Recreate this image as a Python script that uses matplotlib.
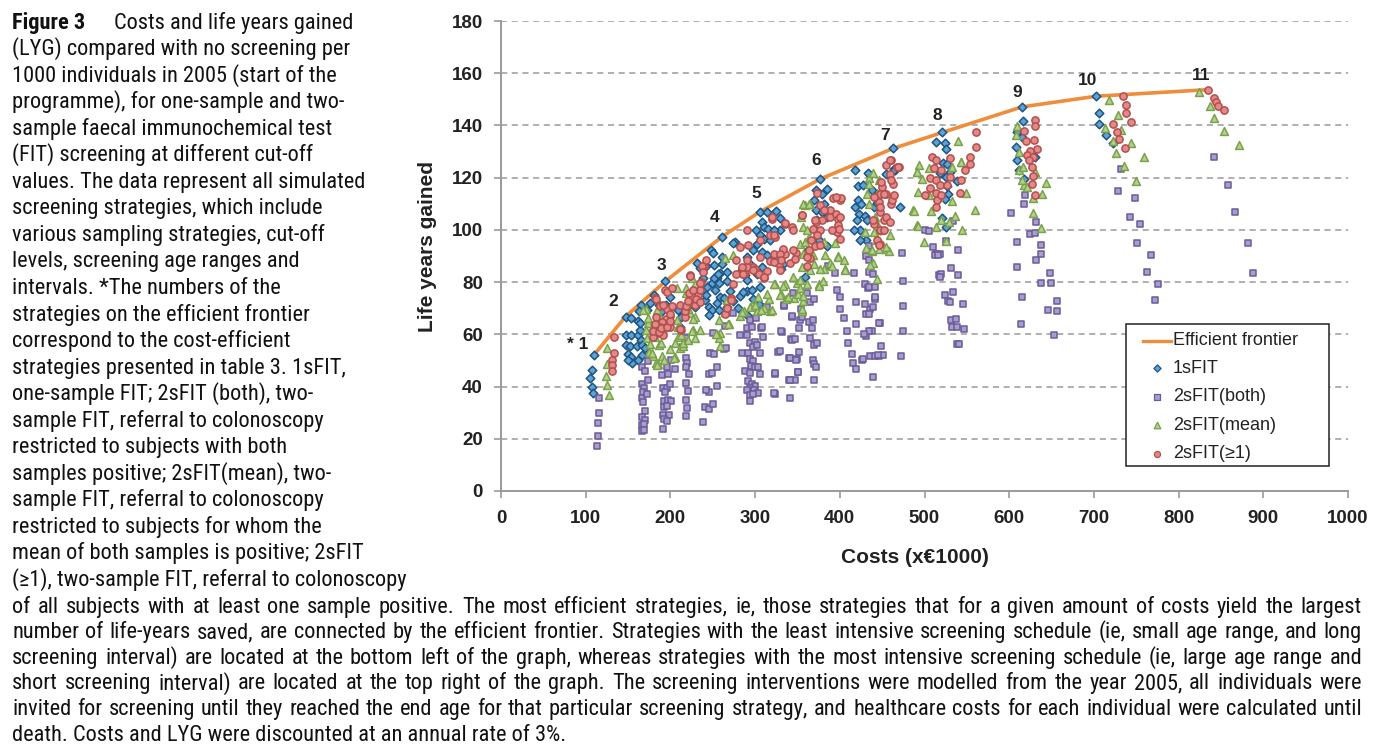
import os
import numpy as np
import matplotlib
matplotlib.use("Agg")
import matplotlib.pyplot as plt
from matplotlib import font_manager as fm
from matplotlib.lines import Line2D
from matplotlib.patches import Rectangle

# ---------------- data ----------------
frontier_x = [110, 147, 194, 261, 306, 377, 463, 521, 615, 703, 834.5]
frontier_y = [52.2, 66.8, 80.3, 97.4, 107, 119.5, 131.2, 137.3, 147.1, 151.2, 153.7]
frontier_labels = ["* 1", "2", "3", "4", "5", "6", "7", "8", "9", "10", "11"]
frontier_label_x = [91, 133, 190, 252, 302, 372, 454, 515, 609, 693, 827]
frontier_label_y = [56, 72.5, 86.3, 104.6, 114.1, 126.5, 136.3, 143.7, 152.7, 157.1, 159]

fit1_pts = [
    (110, 52.2), (147, 66.8), (194, 80.3), (261, 97.4), (306, 107), (377, 119.5), (463, 131.2),
    (521, 137.3), (615, 147.1), (703, 151.2),
    (108, 46.4), (105, 43.1), (108, 40), (109, 37.7),
    (154, 66.2), (147, 59.8), (154, 59.7), (162, 59.7), (164, 61.7), (148, 56), (152, 55.5), (160, 55.4),
    (165, 57.8), (167, 55.9), (150, 52.5), (153, 51.5), (162, 50.2), (166, 52.1), (155, 49.2), (150, 50.1),
    (165, 71.3), (163, 69), (162, 65.2), (170, 54.7), (164, 64.5),
    (172, 69.3), (176, 71.9), (181, 75.1), (200, 74.2), (186, 71.2), (195, 71.2), (200, 70.6), (190, 69),
    (209, 69.3), (213, 66.8), (211, 63),
    (231, 87.2), (235, 85.3), (248, 92.3), (250, 91), (251, 86.6), (276, 95.5), (239, 81.4), (243, 78.3),
    (249, 79.5), (255, 81.4), (259, 83.4), (261, 89.8), (241, 73.1), (245, 70.6), (249, 69.3), (255, 71.9),
    (258, 74.4), (253, 77), (267, 70.6), (257, 69.3), (229, 70.6), (231, 73.8), (235, 76.3), (242, 74.9),
    (242, 86.2), (252, 81.7), (256, 83), (261, 86.8), (257, 79.8), (263, 74.1), (246, 67.4), (274, 95.1),
    (267, 83.7), (267, 80.5), (270, 76.6), (274, 72.8), (280, 70.2), (282, 74.7), (290, 76.6), (292, 67),
    (298, 73.4), (305, 71.5),
    (314, 106.8), (325, 107.2), (329, 104.7), (308, 103), (310, 101.1), (315, 100.5), (329, 100.1),
    (322, 99.8), (301, 99.8), (306, 97.9), (310, 96.6), (318, 96), (302, 94.7), (298, 92.2), (308, 91.5),
    (314, 90.2), (322, 89.6), (326, 88.3), (290, 89.6), (294, 87), (284, 84.5), (288, 82.6), (290, 80.7),
    (302, 83.2), (308, 85.8), (286, 76.2), (296, 76.8), (306, 78.1), (333, 87), (331, 85.1),
    (372, 115.1), (379, 113.9), (385, 115.8), (370, 111.3), (381, 110), (372, 107.5), (379, 106.8),
    (385, 104.9), (373, 103.7), (371, 99.8), (376, 96), (363, 92.2), (385, 93.7), (366, 89.6), (361, 85.8),
    (359, 81.9),
    (418, 123.1), (421, 116.7), (427, 117.1), (436, 120.9), (455, 121.5), (464, 123.4), (421, 111.3),
    (425, 110), (418, 108.8), (423, 106.2), (430, 105.2), (424, 99.8), (417, 99.8), (431, 96), (424, 96),
    (432, 103.6), (471, 108.8), (440, 108.8), (444, 110.3), (438, 115.1), (444, 113.9), (433, 121.6),
    (447, 99.9), (465, 123.1), (420, 103.7),
    (513, 133.6), (524, 133.2), (525, 130.8), (522, 125.5), (526, 125.2), (530, 122), (525, 120.1),
    (538, 118.9), (528, 113.7), (524, 111.8), (521, 104.5), (525, 101), (518, 121.9), (526, 116.8),
    (464, 122.9),
    (616, 141.7), (609, 137.6), (615, 135.7), (608, 131.9), (609, 126.8), (611, 123), (618, 119.5),
    (631, 127.8),
    (706, 144.7), (706, 140.6), (714, 136.2), (722, 133.4),
]

both_pts = [
    (116, 35.8), (116, 30), (115, 26), (114, 21.2), (113, 17.4),
    (166, 47.6), (170, 46), (166, 41), (169, 39.6), (168, 38), (166, 35.8), (168, 34.2), (170, 30.7),
    (167, 28.5), (170, 27.3), (166, 25.3), (169, 25.8), (166, 23), (169, 23.5), (173, 42.4), (172, 37.3),
    (174, 49.6),
    (190, 44.4), (197, 44.8), (196, 47.3), (191, 39.3), (196, 39.6), (194, 38), (200, 40.9), (192, 34.5),
    (197, 34.7), (201, 34.5), (192, 32.3), (196, 32.6), (191, 29.1), (198, 29), (192, 27.5), (196, 26.7),
    (191, 23.6), (205, 46.6), (201, 50.3),
    (218, 51.1), (220, 49.2), (218, 47.3), (222, 44.7), (218, 41.5), (221, 38.3), (218, 35), (220, 31.9),
    (218, 28.9), (219, 58.7), (214, 55.3),
    (239, 26.3), (241, 32.3), (246, 31.5), (246, 38), (242, 38.8), (250, 33.5), (245, 44.7), (249, 45.3),
    (247, 52.9), (251, 52.4), (255, 40.2), (250, 60.5), (255, 47.5),
    (265, 63.2), (263, 54.4), (274, 68), (266, 54.9),
    (282, 59.8), (290, 59.8), (290, 62.6), (296, 62.8), (294, 65.6), (301, 66.2), (307, 62.6), (309, 58.9),
    (294, 56.8), (300, 57.2), (298, 55.2), (302, 56), (306, 53), (285, 53), (292, 52.7), (294, 50.4),
    (298, 49.8), (295, 47.9), (300, 47.5), (304, 47.5), (288, 46), (294, 45.3), (306, 44.7), (292, 42.1),
    (296, 41.1), (300, 40.2), (294, 39.3), (299, 38.7), (291, 38.7), (304, 37.7), (294, 36.7), (294, 34.5),
    (298, 37),
    (324, 44.7), (323, 37.3), (327, 53.3), (332, 60.8), (334, 70.9), (341, 35.8), (340, 42.5), (340, 50.8),
    (342, 58.1), (343, 66.7), (345, 76),
    (347, 42.4), (350, 50.4), (351, 45.6), (352, 53.4), (352, 62.3), (353, 65.6), (354, 69.6), (361, 76),
    (365, 72.2), (364, 64.6), (365, 58.7), (368, 50.3), (370, 55.9), (370, 48.5), (370, 42.5), (372, 47.3),
    (373, 56.8), (368, 65.6), (370, 73.4), (367, 62.6),
    (314, 70.4), (308, 62.8), (331, 61.3), (343, 66.9), (343, 57.7), (347, 58.3), (329, 53.5), (341, 51),
    (348, 50.3), (324, 45.2), (341, 42.6), (351, 45.5), (322, 37.5), (334, 71.1), (355, 66.6),
    (386, 86), (394, 83.3), (397, 76.9), (400, 74.3), (400, 69.6), (405, 66.4), (408, 61.3), (410, 56.8),
    (414, 52.6), (416, 49.2), (419, 46.6), (417, 83.3),
    (419, 63.9), (419, 72.5), (430, 79.2), (433, 77.7), (431, 90), (435, 88.4), (434, 83.7), (439, 83),
    (442, 73.4), (436, 69.6), (439, 70.6), (438, 61.3), (431, 59.4), (436, 51.7), (442, 51.7), (426, 50),
    (439, 43.8), (447, 64.5), (449, 55.6), (446, 51.7), (451, 52), (472, 51.7), (434, 93.8), (427, 50.4),
    (445, 52.2), (435, 61.1), (429, 60.2), (431, 67.9), (435, 67.6), (446, 64.4), (442, 74.3), (430, 71.5),
    (434, 78.1), (442, 78.1),
    (474, 91.1), (475, 80.3), (475, 71), (475, 61.1), (514, 90.6), (518, 90.6), (517, 82.6),
    (501, 100), (505, 99.6), (510, 93.6), (512, 90.3), (516, 90.3), (540, 92.3), (531, 85.3), (540, 82.9),
    (520, 83.1), (518, 82.1), (524, 75.1), (534, 76.2), (528, 72.7), (530, 72.2), (545, 71.5), (531, 65.4),
    (537, 65.8), (533, 63), (538, 62.7), (547, 62.2), (538, 56.3), (541, 56.4), (534, 103.3), (525, 95.7),
    (609, 95.4), (609, 85.6), (615, 74.2), (614, 64), (632, 103.2), (625, 98.3), (631, 98.9), (637, 94.4),
    (638, 90.7), (632, 88.3), (648, 83.3), (638, 79.6), (649, 79.6), (656, 72.9), (646, 69.3), (657, 69.1),
    (653, 59.9), (602, 106.3), (619, 113.5), (617, 110),
    (732, 123.2), (729, 115), (749, 112.1), (743, 104.8), (755, 102.3), (751, 94.9), (768, 90.5),
    (763, 83.7), (776, 79.3), (772, 73.1),
    (842, 127.8), (858, 117.2), (866, 106.9), (882, 94.9), (888, 83.6),
]

mean_pts = [
    (125, 54.9), (125, 48.8), (124, 44.1), (125, 40.6), (127, 36.8),
    (171, 69.6), (174, 64.2), (172, 58.5), (177, 61.7), (182, 59.1), (175, 53.4), (180, 51.7), (186, 55.9),
    (183, 48.9), (190, 51.7), (184, 69.3), (188, 66.8), (208, 77.6), (208, 65.5), (209, 63), (209, 59.1),
    (213, 59.7), (206, 56.5), (200, 54.2), (206, 51.4), (192, 50.2), (185, 48.6), (168, 69.2), (174, 66.4),
    (171, 61.6), (176, 56.2), (178, 52.7), (184, 48.3), (189, 56.8), (188, 62.6), (204, 51.1), (211, 54.9),
    (215, 55.6),
    (215, 56.5), (221, 57.8), (229, 58.5), (227, 61.7), (235, 61.7), (223, 68), (225, 72.5), (229, 66.8),
    (219, 75.7), (225, 81.5), (226, 61.3), (227, 65.8), (221, 69.6), (219, 77.9), (229, 79.2),
    (257, 65.5), (259, 60.4), (255, 60.1), (269, 64), (259, 55.5), (265, 68.7), (267, 73.1), (265, 89.1),
    (274, 90.4), (257, 58.7), (254, 60), (268, 63.9),
    (282, 67), (287, 69), (296, 71.3), (302, 69), (310, 70.2), (318, 69), (316, 73.4), (324, 79.2),
    (330, 75.4), (335, 79.2), (345, 82), (337, 73.4), (346, 74.1), (351, 75.4), (350, 79.8), (355, 69),
    (357, 72.8), (353, 77.9), (361, 79.2), (376, 79.4), (380, 80.5), (381, 84.9), (389, 87.5), (398, 90),
    (406, 84.9), (438, 92), (439, 87.5), (444, 81.1), (454, 92.6), (458, 92),
    (284, 68.5), (294, 70.4), (304, 74.3), (300, 71.1), (307, 69.2), (314, 75.6), (322, 79.4), (333, 78.4),
    (329, 74.9), (339, 74.3), (320, 69.2), (355, 69.8), (356, 74.5), (353, 80.7), (376, 78.7), (365, 84.5),
    (355, 85.8), (356, 90.9), (361, 91.5), (368, 90.2), (370, 87), (377, 85.1), (391, 86), (398, 89.6),
    (405, 88.3), (406, 84.7), (353, 94.7), (359, 95.4), (357, 101.1), (359, 109.4), (365, 110), (383, 90.2),
    (364, 97.3), (381, 95.4),
    (434, 120), (439, 121.8), (444, 113.9), (432, 113.9), (434, 110), (442, 104.9), (443, 103), (440, 99.2),
    (444, 96), (431, 93.2), (438, 92.2), (446, 92.8), (459, 97.9), (455, 93.4), (436, 86.4), (487, 107.5),
    (491, 101.7), (491, 122.2), (435, 117.7), (447, 100.1), (446, 119), (430, 99.3),
    (357, 110.1), (364, 110.1), (354, 105), (389, 106.3), (361, 99.9), (394, 95.1),
    (493, 124.9), (491, 122), (505, 123.7), (497, 119.5), (492, 114.4), (488, 107.4), (492, 101.4),
    (499, 95.2), (514, 101), (508, 107.4), (532, 124), (543, 125.9), (549, 114), (533, 110.9), (536, 105.4),
    (529, 102.9), (520, 103.8), (544, 100.1), (560, 107.7), (525, 95.6), (516, 112.5), (540, 134.1),
    (543, 126.1), (505, 113.4),
    (609, 139.6), (608, 136.4), (612, 130), (611, 123), (616, 124.2), (618, 117.2), (621, 116.6),
    (628, 112.1), (628, 106.6), (638, 100.6), (644, 117.8), (639, 113.8), (631, 122.3), (615, 119.1),
    (718, 149.8), (728, 144), (713, 138.9), (732, 138.3), (722, 134.1), (744, 133.2), (726, 129.6),
    (759, 127.8), (736, 124.5), (750, 118.7),
    (824, 153), (837, 147.5), (842, 143), (854, 138), (871, 132.5),
]

ge1_pts = [
    (134, 59), (134, 53), (131, 50.1), (131, 48.1), (131, 46),
    (182, 73.8), (194, 77), (188, 70.8), (196, 69.6), (199, 67), (195, 65.9), (190, 64.8), (182, 63.2),
    (188, 62.7), (194, 62.3), (200, 62.7), (181, 61), (186, 60.4), (191, 59.7), (179, 59.1), (211, 71.2),
    (219, 69.9), (217, 66.8), (213, 61.7), (223, 82.7), (226, 74.7), (233, 75.1), (236, 80.2), (235, 77),
    (229, 71.2), (240, 86.2), (242, 88.5), (282, 93.6), (288, 83.4), (298, 85.9), (278, 88.5), (271, 73.8),
    (183, 66.8), (182, 63.9), (180, 61.3), (186, 61), (189, 62.3), (196, 62.8), (200, 65.1), (200, 67.7),
    (202, 70.9), (196, 76.4), (202, 77.9), (191, 71.1), (183, 73.4), (211, 61.9), (217, 69), (219, 70.9),
    (221, 72.8), (222, 76), (223, 82.4), (227, 76.9), (230, 73.4), (235, 72.2), (235, 79.8), (237, 86.2),
    (239, 83.7),
    (265, 67.9), (267, 70.2), (272, 73.1), (274, 79.2), (278, 83), (284, 84.9), (286, 83), (290, 85.6),
    (300, 84.9), (305, 83), (310, 81.7), (314, 84.3), (318, 88.1), (322, 90.7), (328, 86.8), (335, 90.7),
    (341, 87.5), (348, 91.3), (361, 86.2), (365, 89.4), (448, 94.5),
    (320, 104.3), (335, 102.4), (343, 101.1), (355, 105.6), (290, 99.8), (306, 96), (292, 94.1),
    (318, 97.9), (324, 97.3), (333, 92.8), (329, 90.9), (331, 88.3), (322, 87.7), (306, 89.6), (290, 88.3),
    (284, 85.8), (286, 83.2), (298, 84.5), (310, 82), (345, 92.2), (347, 89), (329, 84.5),
    (392, 112.3), (400, 111.6), (377, 109.4), (388, 107.5), (389, 104.9), (396, 106.2), (398, 104.3),
    (398, 101.7), (397, 99.2), (391, 99.8), (379, 103.6), (372, 103), (368, 100.5), (377, 99.8), (373, 97.9),
    (366, 96.2), (364, 92.4), (371, 93.7), (361, 89.6),
    (454, 124.7), (459, 121.5), (467, 124.1), (463, 117.7), (450, 116.4), (448, 113.9), (455, 113.9),
    (461, 110), (446, 110.7), (447, 106.8), (452, 103.6), (444, 96), (448, 99.8), (440, 102.4), (470, 124.1),
    (460, 126.7), (460, 119), (449, 118.4), (452, 113.9), (440, 112.7), (448, 108.9), (462, 111.4),
    (454, 105), (439, 103.7), (452, 99.9), (446, 94.2), (402, 112.1), (395, 112.7), (400, 105), (399, 100.2),
    (400, 96.7), (381, 107.6), (373, 114.2), (371, 103.8), (377, 94.2), (355, 105.7), (345, 99.9),
    (335, 102.5), (322, 98), (320, 105.1),
    (561, 137.6), (561, 131.9), (554, 128.1), (548, 122.9), (543, 119.1), (542, 114.3), (530, 127.4),
    (509, 128.1), (514, 126.8), (511, 123.6), (520, 123), (506, 119.8), (513, 119.1), (518, 117.2),
    (514, 114), (507, 115.9), (501, 113.4), (515, 111.5), (514, 108.9), (526, 117.2), (530, 120.4),
    (520, 113.4), (459, 126.8), (469, 124.2), (464, 113.4), (459, 103.2), (554, 125.2),
    (631, 142.1), (631, 139.6), (618, 137.9), (620, 134.1), (629, 134.4), (633, 130.9), (625, 130.4),
    (621, 128.7), (628, 128.1), (623, 126.8), (627, 124.2), (628, 120.7), (627, 117.6), (631, 113.4),
    (734, 151.3), (738, 147.9), (738, 144.9), (744, 141.3), (723, 140.6), (727, 137.5), (730, 134.7),
    (737, 131.4),
    (834.5, 153.7), (842, 150.7), (844, 148.8), (847, 147.5), (854, 146.1),
]

series_names = ["1sFIT", "2sFIT(both)", "2sFIT(mean)", "2sFIT(\u22651)"]
x_ticks = [0, 100, 200, 300, 400, 500, 600, 700, 800, 900, 1000]
y_ticks = [0, 20, 40, 60, 80, 100, 120, 140, 160, 180]

caption_left = [
    "(LYG) compared with no screening per",
    "1000 individuals in 2005 (start of the",
    "programme), for one-sample and two-",
    "sample faecal immunochemical test",
    "(FIT) screening at different cut-off",
    "values. The data represent all simulated",
    "screening strategies, which include",
    "various sampling strategies, cut-off",
    "levels, screening age ranges and",
    "intervals. *The numbers of the",
    "strategies on the efficient frontier",
    "correspond to the cost-efficient",
    "strategies presented in table 3. 1sFIT,",
    "one-sample FIT; 2sFIT (both), two-",
    "sample FIT, referral to colonoscopy",
    "restricted to subjects with both",
    "samples positive; 2sFIT(mean), two-",
    "sample FIT, referral to colonoscopy",
    "restricted to subjects for whom the",
    "mean of both samples is positive; 2sFIT",
    "(\u22651), two-sample FIT, referral to colonoscopy",
]
caption_full = [
    "of all subjects with at least one sample positive. The most efficient strategies, ie, those strategies that for a given amount of costs yield the largest",
    "number of life-years saved, are connected by the efficient frontier. Strategies with the least intensive screening schedule (ie, small age range, and long",
    "screening interval) are located at the bottom left of the graph, whereas strategies with the most intensive screening schedule (ie, large age range and",
    "short screening interval) are located at the top right of the graph. The screening interventions were modelled from the year 2005, all individuals were",
    "invited for screening until they reached the end age for that particular screening strategy, and healthcare costs for each individual were calculated until",
    "death. Costs and LYG were discounted at an annual rate of 3%.",
]

# ---------------- fonts ----------------
def find_narrow(bold):
    prefs = ["liberationsansnarrow", "robotocondensed", "dejavusanscondensed", "opensans_condensed",
             "opensanscondensed", "notosanscondensed"]
    best = None
    for pref in prefs:
        for f in fm.fontManager.ttflist:
            fn = os.path.basename(f.fname).lower().replace("-", "").replace(" ", "")
            if not fn.startswith(pref):
                continue
            if "italic" in fn or "oblique" in fn or "semi" in fn or "light" in fn or "extra" in fn \
                    or "medium" in fn or "thin" in fn or "black" in fn:
                continue
            isb = "bold" in fn
            if isb == bold:
                best = f.fname
                break
        if best:
            break
    return best

W, H = 1375, 748
fig = plt.figure(figsize=(W / 100, H / 100), dpi=100)
fig.patch.set_facecolor("white")

nr = find_narrow(False)
nb = find_narrow(True)
if nr:
    cap_fp = fm.FontProperties(fname=nr, size=14)
else:
    cap_fp = fm.FontProperties(family="Liberation Sans", size=14)
if nb:
    capb_fp = fm.FontProperties(fname=nb, size=14)
else:
    capb_fp = fm.FontProperties(family="Liberation Sans", weight="bold", size=14)

renderer = fig.canvas.get_renderer()


def tw(s, fp):
    w, h, d = renderer.get_text_width_height_descent(s, fp, ismath=False)
    return w

ref_w = tw("values. The data represent all simulated", cap_fp)
scale = 356.0 / ref_w
cap_size = min(16.5, 14 * scale)
cap_fp.set_size(cap_size)
capb_fp.set_size(cap_size)


def px_text(x, ybase, s, fp):
    fig.text(x / W, 1 - ybase / H, s, fontproperties=fp, ha="left", va="baseline", color="#111111")


left_x = 12
base0 = 28.5
step_left = 26.55
px_text(left_x, base0, "Figure 3", capb_fp)
px_text(114, base0, "Costs and life years gained", cap_fp)
for i, line in enumerate(caption_left, start=1):
    px_text(left_x, base0 + step_left * i, line, cap_fp)

full_base0 = base0 + step_left * 22
step_full = 25.6
right_x = 1362
for j, line in enumerate(caption_full):
    yb = full_base0 + step_full * j
    words = line.split(" ")
    if j == len(caption_full) - 1:
        px_text(left_x, yb, line, cap_fp)
        continue
    widths = [tw(w_, cap_fp) for w_ in words]
    gap = (right_x - left_x - sum(widths)) / (len(words) - 1)
    x = left_x
    for w_, ww in zip(words, widths):
        px_text(x, yb, w_, cap_fp)
        x += ww + gap

# ---------------- axes ----------------
ax_l, ax_r, ax_t, ax_b = 501, 1348, 21, 491
ax = fig.add_axes([ax_l / W, 1 - ax_b / H, (ax_r - ax_l) / W, (ax_b - ax_t) / H])
ax.set_xlim(0, 1000)
ax.set_ylim(0, 180)

grid_col = "#9a9a9a"
for yv in y_ticks[1:]:
    ax.axhline(yv, color=grid_col, lw=1.1, ls=(0, (4, 3)), zorder=0.5)

for s in ["top", "right"]:
    ax.spines[s].set_visible(False)
for s in ["left", "bottom"]:
    ax.spines[s].set_color("#9a9a9a")
    ax.spines[s].set_linewidth(1.4)

ax.set_xticks(x_ticks)
ax.set_yticks(y_ticks)
tick_font = {"family": "Liberation Sans", "weight": "bold", "size": 13.5}
ax.set_xticklabels([str(v) for v in x_ticks], fontdict=tick_font, color="#222222")
ax.set_yticklabels([str(v) for v in y_ticks], fontdict=tick_font, color="#222222")
ax.tick_params(axis="both", direction="out", length=5, width=1.2, color="#9a9a9a")
ax.tick_params(axis="y", pad=8)
ax.tick_params(axis="x", pad=9)

lab_font = {"family": "Liberation Sans", "weight": "bold", "size": 15}
ax.set_ylabel("Life years gained", fontdict=lab_font, color="#222222")
ax.set_xlabel("Costs (x\u20ac1000)", fontdict=lab_font, color="#222222")
ax.yaxis.set_label_coords((437 - ax_l) / (ax_r - ax_l), (ax_b - 247) / (ax_b - ax_t))
ax.xaxis.set_label_coords((915 - ax_l) / (ax_r - ax_l), (ax_b - 548) / (ax_b - ax_t))

orange = "#EE8E3C"
ax.plot(frontier_x, frontier_y, color=orange, lw=2.6, zorder=1, solid_capstyle="round")

styles = [
    dict(marker="D", s=19, facecolor="#5EA2D6", edgecolor="#1E5480"),
    dict(marker="s", s=22, facecolor="#A99DCB", edgecolor="#6A5B9A"),
    dict(marker="^", s=32, facecolor="#B5D08E", edgecolor="#79A24A"),
    dict(marker="o", s=27, facecolor="#E3898A", edgecolor="#B24F4B"),
]
all_pts = [fit1_pts, both_pts, mean_pts, ge1_pts]
for k, (pts, st) in enumerate(zip(all_pts, styles)):
    xs = [p[0] for p in pts]
    ys = [p[1] for p in pts]
    ax.scatter(xs, ys, marker=st["marker"], s=st["s"], facecolors=st["facecolor"],
               edgecolors=st["edgecolor"], linewidths=1.1, zorder=2 + k, clip_on=False)

for lab, lx, ly in zip(frontier_labels, frontier_label_x, frontier_label_y):
    ax.text(lx, ly, lab, ha="center", va="center", fontsize=12.5, fontweight="bold",
            family="Liberation Sans", color="#222222", zorder=10)

# ---------------- legend (manual box) ----------------
def to_ax(px, py):
    return (px - ax_l) / (ax_r - ax_l), (ax_b - py) / (ax_b - ax_t)

x0, y0 = to_ax(1126, 466)
x1, y1 = to_ax(1329, 324)
ax.add_patch(Rectangle((x0, y0), x1 - x0, y1 - y0, transform=ax.transAxes, facecolor="white",
                       edgecolor="#222222", lw=1.1, zorder=20, clip_on=False))
entry_y = [340.7, 368.5, 397, 425.3, 454]
labels = ["Efficient frontier"] + series_names
for i, (py, lab) in enumerate(zip(entry_y, labels)):
    if i == 0:
        xa, ya = to_ax(1143, py)
        xb, _ = to_ax(1171, py)
        ax.add_line(Line2D([xa, xb], [ya, ya], transform=ax.transAxes, color=orange, lw=2.4, zorder=21,
                           clip_on=False))
    else:
        st = styles[i - 1]
        xm, ym = to_ax(1157, py)
        ax.scatter([xm], [ym], transform=ax.transAxes, marker=st["marker"], s=st["s"] * 0.7,
                   facecolors=st["facecolor"], edgecolors=st["edgecolor"], linewidths=0.9, zorder=21,
                   clip_on=False)
    xt, yt = to_ax(1173, py)
    ax.text(xt, yt, lab, transform=ax.transAxes, ha="left", va="center", fontsize=13,
            family="Liberation Sans", color="#222222", zorder=22)

fig.savefig("out.png", dpi=100, facecolor="white")
